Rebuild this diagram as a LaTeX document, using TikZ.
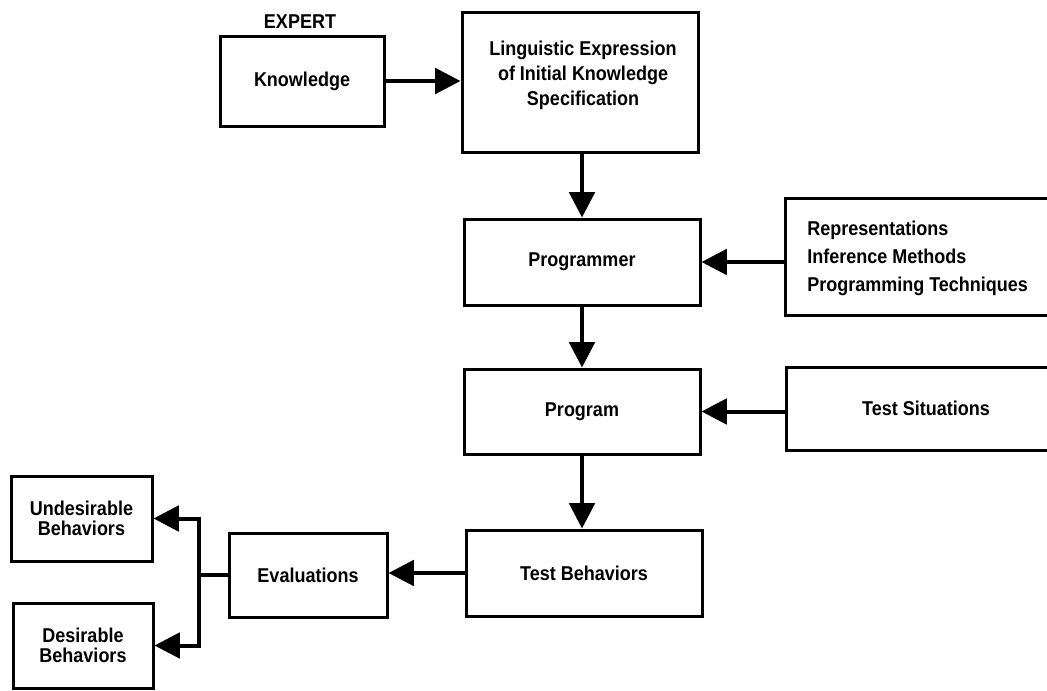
\documentclass[tikz,border=0pt]{standalone}
\usepackage{fontspec}
\setmainfont{Liberation Sans}[FakeStretch=0.9]
\usetikzlibrary{arrows.meta}
\begin{document}
\begin{tikzpicture}[x=0.75pt,y=-0.75pt,
  box/.style={draw, line width=2.25pt, inner sep=0pt, align=center,
    font=\fontsize{15}{18.75}\selectfont\bfseries},
  txt/.style={inner sep=0pt, align=center, font=\fontsize{15}{18.75}\selectfont\bfseries},
  arr/.style={line width=3pt, line join=miter, -{Triangle[length=19pt,width=19pt]}},
  link/.style={line width=3pt}]
\useasboundingbox (0,0) rectangle (1047,690);
% top row
\node[txt] (expert) at (300,22) {EXPERT};
\node[box, minimum width=123pt, minimum height=67.5pt] (know) at (302,81) {Knowledge};
\node[box, minimum width=177pt, minimum height=105pt] (ling) at (580,82) {};
\node[txt] (lingtext) at (583,75) {Linguistic Expression\\of Initial Knowledge\\Specification};
% central column
\node[box, minimum width=177pt, minimum height=64.5pt] (prog) at (582,262) {Programmer};
\node[box, minimum width=177pt, minimum height=63.75pt] (pgm) at (582,411.5) {Program};
\node[box, minimum width=177pt, minimum height=64.5pt] (tb) at (584,573) {Test Behaviors};
% right column
\node[box, minimum width=200.25pt, minimum height=87.75pt] (rep) at (918.5,256.5) {};
\node[txt, anchor=west, align=left, font=\fontsize{15}{21}\selectfont\bfseries] (reptext) at (807,258)
  {Representations\\Inference Methods\\Programming Techniques};
\node[box, minimum width=199.5pt, minimum height=62.25pt] (sit) at (919,408.5) {};
\node[txt] (sittext) at (926,408) {Test Situations};
% bottom left
\node[box, minimum width=118.5pt, minimum height=63pt] (eval) at (308,575) {Evaluations};
\node[box, minimum width=105.75pt, minimum height=63.75pt, font=\fontsize{15}{15}\selectfont\bfseries] (undes) at (81.5,518.5) {Undesirable\\Behaviors};
\node[box, minimum width=105pt, minimum height=63.75pt, font=\fontsize{15}{15}\selectfont\bfseries] (des) at (83,645.5) {Desirable\\Behaviors};
\coordinate (j) at (199,575);
% connectors
\draw[arr] (know) -- (know -| ling.west);
\draw[arr] (ling.south -| prog.north) -- (prog.north);
\draw[arr] (prog) -- (pgm);
\draw[arr] (pgm.south) -- (pgm.south |- tb.north);
\draw[arr] (rep.west |- prog.east) -- (prog.east);
\draw[arr] (sit.west |- pgm.east) -- (pgm.east);
\draw[arr] (tb.west) -- (tb.west -| eval.east);
\draw[link] (eval.west) -- (j);
\draw[arr] (j) |- (undes.east);
\draw[arr] (j) |- (des.east);
\end{tikzpicture}
\end{document}
